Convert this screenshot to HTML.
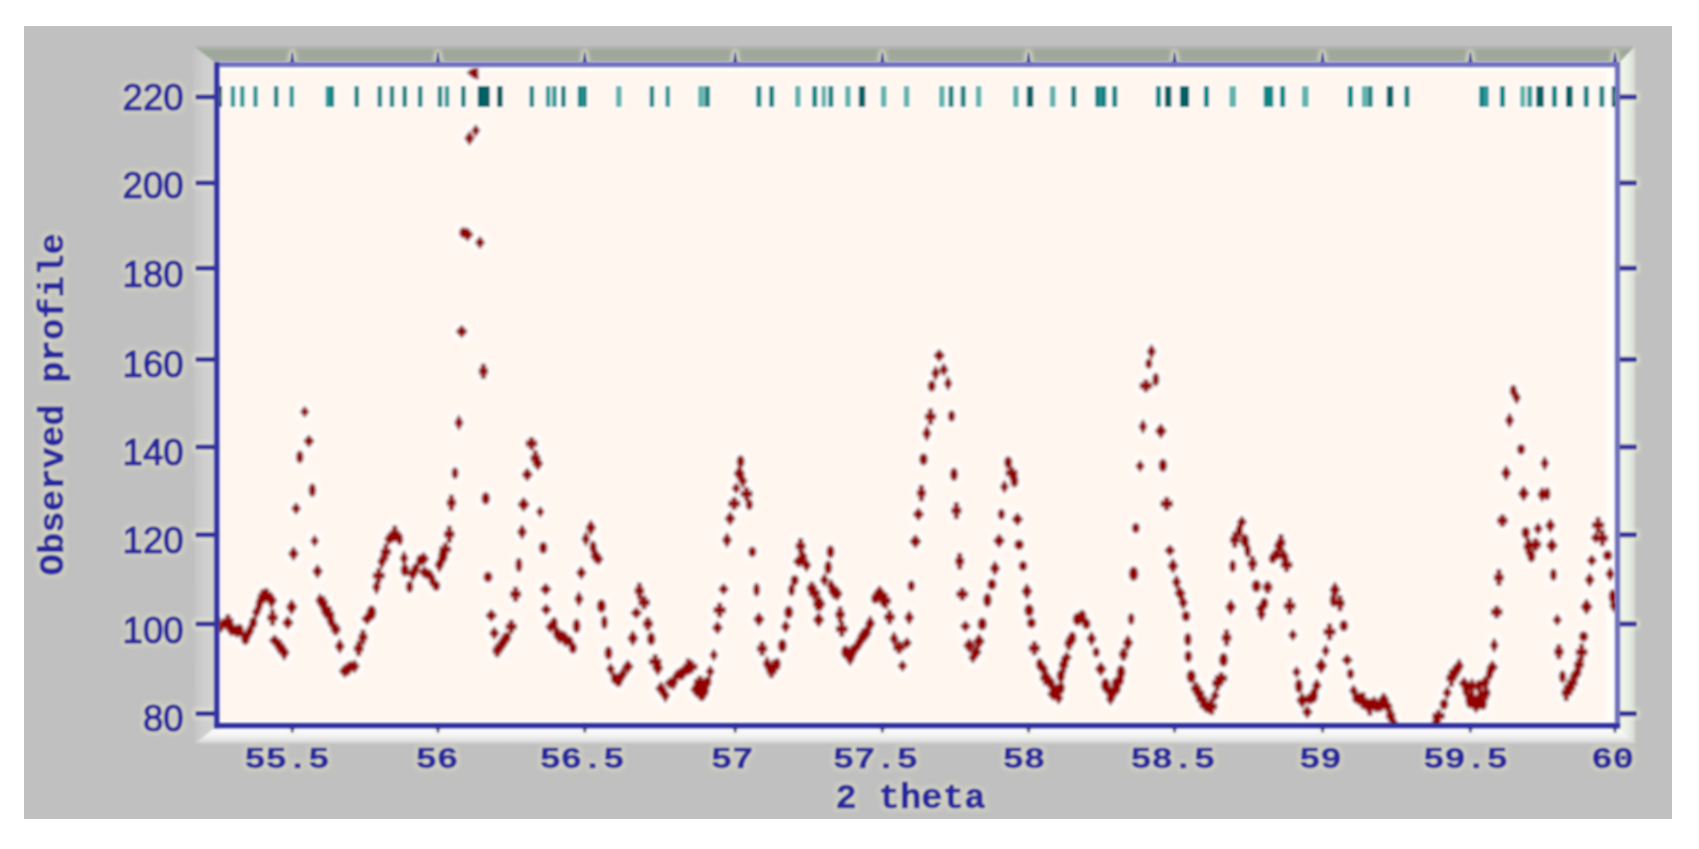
<!DOCTYPE html>
<html lang="en"><head><meta charset="utf-8"><title>Observed profile vs 2 theta</title>
<style>html,body{margin:0;padding:0;background:#fff;}body{width:1699px;height:849px;overflow:hidden;}svg{display:block;}</style>
</head><body>
<svg width="1699" height="849" viewBox="0 0 1699 849">
<defs><filter id="b1" x="-5%" y="-5%" width="110%" height="110%"><feGaussianBlur stdDeviation="1.3"/></filter><filter id="b2" x="-5%" y="-5%" width="110%" height="110%"><feGaussianBlur stdDeviation="1.0"/></filter><filter id="hy" x="-5%" y="-5%" width="110%" height="110%"><feMorphology in="SourceAlpha" operator="dilate" radius="2"/><feGaussianBlur stdDeviation="2.2" result="d"/><feFlood flood-color="#e6e5c4" flood-opacity="0.6"/><feComposite in2="d" operator="in" result="h"/><feGaussianBlur in="SourceGraphic" stdDeviation="1.0" result="s"/><feMerge><feMergeNode in="h"/><feMergeNode in="s"/></feMerge></filter><filter id="hw" x="-5%" y="-5%" width="110%" height="110%"><feMorphology in="SourceAlpha" operator="dilate" radius="3"/><feGaussianBlur stdDeviation="2" result="d"/><feFlood flood-color="#ffffff" flood-opacity="1"/><feComposite in2="d" operator="in" result="h"/><feGaussianBlur in="SourceGraphic" stdDeviation="1.5" result="s"/><feMerge><feMergeNode in="h"/><feMergeNode in="s"/></feMerge></filter><filter id="ht" x="-5%" y="-20%" width="110%" height="140%"><feMorphology in="SourceAlpha" operator="dilate" radius="2"/><feGaussianBlur stdDeviation="1.8" result="d"/><feFlood flood-color="#ffffff" flood-opacity="0.9"/><feComposite in2="d" operator="in" result="h"/><feGaussianBlur in="SourceGraphic" stdDeviation="1.15" result="s"/><feMerge><feMergeNode in="h"/><feMergeNode in="s"/></feMerge></filter><filter id="hy2" x="-5%" y="-5%" width="110%" height="110%"><feMorphology in="SourceAlpha" operator="dilate" radius="1.5"/><feGaussianBlur stdDeviation="2" result="d"/><feFlood flood-color="#f4f4d8" flood-opacity="0.7"/><feComposite in2="d" operator="in" result="h"/><feGaussianBlur in="SourceGraphic" stdDeviation="1.1" result="s"/><feMerge><feMergeNode in="h"/><feMergeNode in="s"/></feMerge></filter><linearGradient id="gb" x1="0" y1="0" x2="0" y2="1"><stop offset="0" stop-color="#ffffff"/><stop offset="0.55" stop-color="#f2f2f2"/><stop offset="1" stop-color="#d4d4d4"/></linearGradient><linearGradient id="gr" x1="0" y1="0" x2="1" y2="0"><stop offset="0" stop-color="#f4fae8"/><stop offset="0.6" stop-color="#e6ece2"/><stop offset="1" stop-color="#d2d6d0"/></linearGradient><linearGradient id="gt" x1="0" y1="0" x2="0" y2="1"><stop offset="0" stop-color="#b4b8b0"/><stop offset="0.35" stop-color="#9ea69a"/><stop offset="1" stop-color="#a2aa9c"/></linearGradient><linearGradient id="gl" x1="0" y1="0" x2="1" y2="0"><stop offset="0" stop-color="#c4c4c4"/><stop offset="0.5" stop-color="#cecece"/><stop offset="1" stop-color="#d2d2cf"/></linearGradient></defs>
<rect width="1699" height="849" fill="#ffffff"/>
<rect x="24" y="26" width="1648" height="793" fill="#c0c0c0"/>
<g filter="url(#b2)">
<polygon points="193.20000000000002,45.9 1635.1,45.9 1620.1,61.9 214.20000000000002,61.9" fill="url(#gt)"/>
<polygon points="193.20000000000002,45.9 214.20000000000002,61.9 214.20000000000002,728.2 195.20000000000002,743.2" fill="url(#gl)"/>
<polygon points="195.20000000000002,743.2 214.20000000000002,728.2 1620.1,728.2 1635.1,743.2" fill="url(#gb)"/>
<polygon points="1635.1,45.9 1635.1,743.2 1620.1,728.2 1620.1,61.9" fill="url(#gr)"/>
<rect x="214.20000000000002" y="61.9" width="1405.8999999999999" height="666.3000000000001" fill="#fffffa"/>
<rect x="221.20000000000002" y="71.4" width="1385.3999999999999" height="648.8000000000001" fill="#fff6ef"/>
</g>
<clipPath id="cp"><rect x="216.8" y="64.5" width="1400.6999999999998" height="661.1"/></clipPath>
<g clip-path="url(#cp)"><g filter="url(#ht)">
<rect x="217.3" y="86" width="4.8" height="21" fill="#005f62"/>
<rect x="230.5" y="86" width="4.8" height="21" fill="#2f9a98"/>
<rect x="239.9" y="86" width="4.8" height="21" fill="#2f9a98"/>
<rect x="253.1" y="86" width="4.8" height="21" fill="#2f9a98"/>
<rect x="273.8" y="86" width="4.8" height="21" fill="#0a8585"/>
<rect x="289.3" y="86" width="4.8" height="21" fill="#2f9a98"/>
<rect x="325.5" y="86" width="4.8" height="21" fill="#2f9a98"/>
<rect x="329.4" y="86" width="4.8" height="21" fill="#0a8585"/>
<rect x="354.3" y="86" width="4.8" height="21" fill="#0a8585"/>
<rect x="377.4" y="86" width="4.8" height="21" fill="#0a8585"/>
<rect x="389.6" y="86" width="4.8" height="21" fill="#0a8585"/>
<rect x="402.3" y="86" width="4.8" height="21" fill="#0a8585"/>
<rect x="417.8" y="86" width="4.8" height="21" fill="#0a8585"/>
<rect x="437.6" y="86" width="4.8" height="21" fill="#0a8585"/>
<rect x="444.6" y="86" width="4.8" height="21" fill="#2f9a98"/>
<rect x="461.0" y="86" width="4.8" height="21" fill="#0a8585"/>
<rect x="477.6" y="86" width="12.3" height="21" fill="#005f62"/>
<rect x="497.0" y="86" width="5.8" height="21" fill="#005f62"/>
<rect x="529.4" y="86" width="4.8" height="21" fill="#0a8585"/>
<rect x="545.8" y="86" width="4.8" height="21" fill="#2f9a98"/>
<rect x="552.0" y="86" width="4.8" height="21" fill="#2f9a98"/>
<rect x="561.0" y="86" width="4.8" height="21" fill="#0a8585"/>
<rect x="577.6" y="86" width="4.8" height="21" fill="#0a8585"/>
<rect x="582.1" y="86" width="4.8" height="21" fill="#0a8585"/>
<rect x="615.9" y="86" width="5.8" height="21" fill="#62b2ac"/>
<rect x="649.5" y="86" width="4.8" height="21" fill="#0a8585"/>
<rect x="665.3" y="86" width="4.8" height="21" fill="#2f9a98"/>
<rect x="698.1" y="86" width="5.8" height="21" fill="#62b2ac"/>
<rect x="704.3" y="86" width="5.8" height="21" fill="#0a8585"/>
<rect x="756.2" y="86" width="5.3" height="21" fill="#0a8585"/>
<rect x="769.0" y="86" width="5.3" height="21" fill="#0a8585"/>
<rect x="795.0" y="86" width="5.8" height="21" fill="#62b2ac"/>
<rect x="812.1" y="86" width="5.3" height="21" fill="#0a8585"/>
<rect x="821.4" y="86" width="4.8" height="21" fill="#62b2ac"/>
<rect x="828.2" y="86" width="5.3" height="21" fill="#0a8585"/>
<rect x="845.0" y="86" width="5.8" height="21" fill="#62b2ac"/>
<rect x="858.6" y="86" width="6.8" height="21" fill="#005f62"/>
<rect x="880.8" y="86" width="5.8" height="21" fill="#62b2ac"/>
<rect x="903.7" y="86" width="5.8" height="21" fill="#62b2ac"/>
<rect x="939.0" y="86" width="5.8" height="21" fill="#62b2ac"/>
<rect x="948.4" y="86" width="5.3" height="21" fill="#0a8585"/>
<rect x="960.5" y="86" width="5.3" height="21" fill="#0a8585"/>
<rect x="975.7" y="86" width="5.8" height="21" fill="#62b2ac"/>
<rect x="1013.0" y="86" width="5.8" height="21" fill="#62b2ac"/>
<rect x="1026.6" y="86" width="6.8" height="21" fill="#005f62"/>
<rect x="1049.8" y="86" width="5.8" height="21" fill="#62b2ac"/>
<rect x="1071.1" y="86" width="5.3" height="21" fill="#0a8585"/>
<rect x="1095.1" y="86" width="5.8" height="21" fill="#0a8585"/>
<rect x="1100.6" y="86" width="5.8" height="21" fill="#0a8585"/>
<rect x="1112.1" y="86" width="5.3" height="21" fill="#0a8585"/>
<rect x="1155.8" y="86" width="5.3" height="21" fill="#0a8585"/>
<rect x="1164.8" y="86" width="6.8" height="21" fill="#005f62"/>
<rect x="1179.9" y="86" width="9.3" height="21" fill="#005f62"/>
<rect x="1203.8" y="86" width="5.3" height="21" fill="#0a8585"/>
<rect x="1229.3" y="86" width="6.8" height="21" fill="#62b2ac"/>
<rect x="1263.6" y="86" width="5.8" height="21" fill="#0a8585"/>
<rect x="1268.6" y="86" width="4.8" height="21" fill="#0a8585"/>
<rect x="1280.0" y="86" width="5.3" height="21" fill="#0a8585"/>
<rect x="1301.9" y="86" width="6.8" height="21" fill="#62b2ac"/>
<rect x="1347.8" y="86" width="5.3" height="21" fill="#0a8585"/>
<rect x="1361.7" y="86" width="5.8" height="21" fill="#62b2ac"/>
<rect x="1367.5" y="86" width="5.3" height="21" fill="#0a8585"/>
<rect x="1386.6" y="86" width="6.8" height="21" fill="#005f62"/>
<rect x="1404.3" y="86" width="5.3" height="21" fill="#0a8585"/>
<rect x="1479.1" y="86" width="5.8" height="21" fill="#0a8585"/>
<rect x="1484.1" y="86" width="4.8" height="21" fill="#2f9a98"/>
<rect x="1499.8" y="86" width="5.3" height="21" fill="#0a8585"/>
<rect x="1520.1" y="86" width="5.3" height="21" fill="#62b2ac"/>
<rect x="1527.1" y="86" width="5.3" height="21" fill="#2f9a98"/>
<rect x="1536.1" y="86" width="7.8" height="21" fill="#005f62"/>
<rect x="1551.8" y="86" width="5.3" height="21" fill="#0a8585"/>
<rect x="1566.0" y="86" width="6.8" height="21" fill="#005f62"/>
<rect x="1583.6" y="86" width="5.3" height="21" fill="#0a8585"/>
<rect x="1599.2" y="86" width="5.3" height="21" fill="#0a8585"/>
<rect x="1611.6" y="86" width="5.8" height="21" fill="#005f62"/>
</g></g>
<g clip-path="url(#cp)"><g filter="url(#hw)" fill="#930000">
<ellipse cx="216.9" cy="622.4" rx="4.1" ry="6.2"/>
<ellipse cx="220.2" cy="627.1" rx="3.7" ry="5.8"/>
<polygon points="222.9,617.8 228.0,624.3 222.9,630.8 217.8,624.3"/>
<path d="M225.3,614.1h5.4v3.9h2.9v6.4h-2.9v3.9h-5.4v-3.9h-2.9v-6.4h2.9z"/>
<polygon points="230.9,619.2 237.2,628.0 230.9,636.9 224.6,628.0"/>
<ellipse cx="233.7" cy="630.3" rx="3.7" ry="5.6"/>
<polygon points="236.9,623.7 242.8,631.2 236.9,638.6 230.9,631.2"/>
<ellipse cx="239.8" cy="630.2" rx="4.2" ry="6.7"/>
<ellipse cx="245.4" cy="638.1" rx="4.7" ry="7.2"/>
<polygon points="249.9,622.3 254.7,630.8 249.9,639.2 245.1,630.8"/>
<ellipse cx="253.3" cy="622.6" rx="4.4" ry="6.2"/>
<polygon points="256.3,605.3 261.3,612.2 256.3,619.2 251.3,612.2"/>
<ellipse cx="259.3" cy="604.4" rx="3.8" ry="7.3"/>
<path d="M260.1,589.2h5.4v4.1h2.5v6.4h-2.5v4.1h-5.4v-4.1h-2.5v-6.4h2.5z"/>
<path d="M263.6,588.0h5.4v3.7h2.9v6.4h-2.9v3.7h-5.4v-3.7h-2.9v-6.4h2.9z"/>
<polygon points="271.5,591.6 277.4,600.5 271.5,609.4 265.7,600.5"/>
<path d="M269.8,609.2h5.4v5.2h2.8v6.4h-2.8v5.2h-5.4v-5.2h-2.8v-6.4h2.8z"/>
<polygon points="274.6,634.1 281.0,640.5 274.6,646.9 268.3,640.5"/>
<path d="M277.0,639.7h5.4v3.6h2.1v6.4h-2.1v3.6h-5.4v-3.6h-2.1v-6.4h2.1z"/>
<polygon points="284.2,643.9 289.9,652.6 284.2,661.4 278.4,652.6"/>
<polygon points="287.8,615.2 294.0,622.7 287.8,630.1 281.5,622.7"/>
<polygon points="291.6,598.2 297.7,606.9 291.6,615.7 285.6,606.9"/>
<polygon points="293.5,545.8 299.2,553.7 293.5,561.6 287.8,553.7"/>
<polygon points="296.1,501.8 301.4,508.5 296.1,515.2 290.8,508.5"/>
<ellipse cx="299.8" cy="456.9" rx="4.0" ry="6.7"/>
<polygon points="304.7,405.5 309.7,411.8 304.7,418.1 299.7,411.8"/>
<polygon points="308.9,434.3 314.8,441.1 308.9,447.9 303.0,441.1"/>
<ellipse cx="312.3" cy="490.2" rx="3.9" ry="7.1"/>
<polygon points="314.6,534.3 319.4,540.9 314.6,547.4 309.9,540.9"/>
<polygon points="317.5,563.4 323.2,571.3 317.5,579.3 311.9,571.3"/>
<polygon points="319.9,592.3 324.8,600.4 319.9,608.5 315.0,600.4"/>
<path d="M320.2,595.8h5.4v3.9h2.4v6.4h-2.4v3.9h-5.4v-3.9h-2.4v-6.4h2.4z"/>
<polygon points="325.5,604.1 330.7,611.8 325.5,619.6 320.3,611.8"/>
<path d="M326.5,606.0h5.4v5.3h2.7v6.4h-2.7v5.3h-5.4v-5.3h-2.7v-6.4h2.7z"/>
<ellipse cx="331.4" cy="622.2" rx="4.1" ry="5.8"/>
<path d="M333.0,623.0h5.4v3.1h2.3v6.4h-2.3v3.1h-5.4v-3.1h-2.3v-6.4h2.3z"/>
<polygon points="339.8,637.8 345.2,646.2 339.8,654.6 334.4,646.2"/>
<polygon points="344.7,663.5 350.9,671.0 344.7,678.5 338.4,671.0"/>
<ellipse cx="347.9" cy="669.3" rx="3.6" ry="6.6"/>
<ellipse cx="350.7" cy="666.4" rx="4.9" ry="5.6"/>
<polygon points="354.7,658.7 360.0,666.3 354.7,673.9 349.4,666.3"/>
<path d="M356.0,640.8h5.4v4.5h2.4v6.4h-2.4v4.5h-5.4v-4.5h-2.4v-6.4h2.4z"/>
<path d="M360.3,629.5h5.4v4.4h2.1v6.4h-2.1v4.4h-5.4v-4.4h-2.1v-6.4h2.1z"/>
<polygon points="367.1,612.0 373.5,618.8 367.1,625.6 360.7,618.8"/>
<ellipse cx="371.5" cy="612.6" rx="5.0" ry="7.5"/>
<polygon points="376.5,578.3 381.2,587.0 376.5,595.7 371.8,587.0"/>
<path d="M376.1,567.7h5.4v4.7h3.6v6.4h-3.6v4.7h-5.4v-4.7h-3.6v-6.4h3.6z"/>
<polygon points="381.9,553.2 386.8,561.6 381.9,569.9 377.0,561.6"/>
<path d="M383.2,543.4h5.4v5.3h2.7v6.4h-2.7v5.3h-5.4v-5.3h-2.7v-6.4h2.7z"/>
<polygon points="388.7,532.0 393.7,538.9 388.7,545.7 383.8,538.9"/>
<polygon points="391.6,529.6 397.2,536.9 391.6,544.2 386.0,536.9"/>
<path d="M392.1,525.3h5.4v5.0h2.4v6.4h-2.4v5.0h-5.4v-5.0h-2.4v-6.4h2.4z"/>
<ellipse cx="399.8" cy="539.0" rx="3.6" ry="6.6"/>
<polygon points="404.1,549.7 408.8,558.2 404.1,566.6 399.4,558.2"/>
<ellipse cx="404.9" cy="570.1" rx="4.5" ry="6.6"/>
<ellipse cx="409.6" cy="586.8" rx="4.0" ry="6.3"/>
<polygon points="412.7,566.0 418.1,574.0 412.7,582.0 407.3,574.0"/>
<ellipse cx="415.8" cy="568.3" rx="4.2" ry="5.4"/>
<ellipse cx="420.2" cy="560.2" rx="4.3" ry="5.9"/>
<polygon points="423.6,551.3 429.7,558.8 423.6,566.3 417.5,558.8"/>
<polygon points="423.9,565.7 429.4,572.2 423.9,578.8 418.4,572.2"/>
<polygon points="426.0,566.4 431.4,572.9 426.0,579.5 420.5,572.9"/>
<ellipse cx="428.9" cy="574.3" rx="4.3" ry="5.4"/>
<ellipse cx="432.2" cy="579.9" rx="3.7" ry="7.0"/>
<ellipse cx="436.2" cy="585.8" rx="4.3" ry="5.5"/>
<polygon points="439.4,556.0 444.7,564.7 439.4,573.5 434.1,564.7"/>
<ellipse cx="443.0" cy="555.8" rx="4.9" ry="7.6"/>
<path d="M442.6,542.6h5.4v3.6h3.4v6.4h-3.4v3.6h-5.4v-3.6h-3.4v-6.4h3.4z"/>
<path d="M446.6,525.4h5.4v5.6h2.8v6.4h-2.8v5.6h-5.4v-5.6h-2.8v-6.4h2.8z"/>
<path d="M448.7,494.5h5.4v5.1h2.2v6.4h-2.2v5.1h-5.4v-5.1h-2.2v-6.4h2.2z"/>
<ellipse cx="455.0" cy="473.1" rx="3.7" ry="6.1"/>
<polygon points="458.9,414.1 463.8,422.7 458.9,431.3 454.0,422.7"/>
<ellipse cx="488.0" cy="577.0" rx="4.8" ry="5.7"/>
<polygon points="491.3,608.5 497.6,615.4 491.3,622.2 484.9,615.4"/>
<polygon points="494.3,626.0 499.9,633.2 494.3,640.3 488.7,633.2"/>
<path d="M494.5,643.8h5.4v3.5h2.2v6.4h-2.2v3.5h-5.4v-3.5h-2.2v-6.4h2.2z"/>
<polygon points="502.6,634.4 508.5,643.0 502.6,651.7 496.7,643.0"/>
<ellipse cx="506.6" cy="637.3" rx="4.8" ry="5.6"/>
<path d="M508.5,619.4h5.4v4.0h3.1v6.4h-3.1v4.0h-5.4v-4.0h-3.1v-6.4h3.1z"/>
<path d="M512.9,586.4h5.4v4.6h3.0v6.4h-3.0v4.6h-5.4v-4.6h-3.0v-6.4h3.0z"/>
<ellipse cx="518.9" cy="564.9" rx="3.7" ry="7.5"/>
<polygon points="522.1,523.5 527.4,531.9 522.1,540.2 516.7,531.9"/>
<polygon points="523.6,496.6 530.1,504.4 523.6,512.2 517.1,504.4"/>
<polygon points="527.2,467.2 533.3,474.6 527.2,482.1 521.2,474.6"/>
<path d="M528.8,437.1h5.4v3.2h3.3v6.4h-3.3v3.2h-5.4v-3.2h-3.3v-6.4h3.3z"/>
<path d="M532.7,450.3h5.4v4.8h2.4v6.4h-2.4v4.8h-5.4v-4.8h-2.4v-6.4h2.4z"/>
<polygon points="537.9,455.5 543.6,463.5 537.9,471.5 532.2,463.5"/>
<polygon points="540.2,505.4 544.8,511.8 540.2,518.2 535.6,511.8"/>
<ellipse cx="543.2" cy="547.7" rx="4.5" ry="6.3"/>
<polygon points="545.7,582.6 552.0,589.2 545.7,595.9 539.4,589.2"/>
<polygon points="546.1,603.3 552.0,609.6 546.1,616.0 540.3,609.6"/>
<polygon points="550.3,620.3 555.6,626.9 550.3,633.5 545.0,626.9"/>
<ellipse cx="554.2" cy="623.3" rx="3.9" ry="6.6"/>
<ellipse cx="556.8" cy="633.2" rx="3.9" ry="6.7"/>
<polygon points="559.1,627.7 564.0,636.4 559.1,645.1 554.3,636.4"/>
<ellipse cx="562.1" cy="635.6" rx="3.8" ry="5.6"/>
<polygon points="565.4,631.1 571.6,639.5 565.4,647.8 559.1,639.5"/>
<ellipse cx="569.7" cy="641.2" rx="4.0" ry="5.4"/>
<ellipse cx="572.9" cy="648.0" rx="4.4" ry="6.1"/>
<ellipse cx="576.6" cy="625.9" rx="4.2" ry="7.4"/>
<polygon points="578.9,590.3 584.0,599.0 578.9,607.6 573.9,599.0"/>
<polygon points="581.3,565.4 586.9,572.8 581.3,580.2 575.7,572.8"/>
<polygon points="585.8,530.6 590.5,538.9 585.8,547.2 581.1,538.9"/>
<polygon points="590.8,518.9 596.5,527.6 590.8,536.4 585.2,527.6"/>
<ellipse cx="593.1" cy="547.3" rx="3.9" ry="6.7"/>
<polygon points="595.7,547.7 601.5,556.2 595.7,564.6 589.9,556.2"/>
<polygon points="598.7,551.9 603.9,559.0 598.7,566.1 593.5,559.0"/>
<ellipse cx="601.4" cy="606.1" rx="4.9" ry="7.1"/>
<ellipse cx="604.4" cy="622.4" rx="3.6" ry="7.2"/>
<ellipse cx="608.5" cy="653.0" rx="4.3" ry="7.0"/>
<polygon points="610.6,662.5 615.6,669.1 610.6,675.7 605.6,669.1"/>
<ellipse cx="614.2" cy="678.2" rx="3.6" ry="6.1"/>
<ellipse cx="618.4" cy="680.2" rx="4.6" ry="7.2"/>
<polygon points="622.6,666.7 627.7,674.5 622.6,682.2 617.5,674.5"/>
<polygon points="627.9,659.0 634.0,666.6 627.9,674.3 621.8,666.6"/>
<polygon points="632.8,629.5 638.7,638.3 632.8,647.1 627.0,638.3"/>
<polygon points="636.3,606.6 642.6,612.9 636.3,619.3 630.0,612.9"/>
<path d="M636.7,582.6h5.4v5.0h2.3v6.4h-2.3v5.0h-5.4v-5.0h-2.3v-6.4h2.3z"/>
<path d="M641.4,595.4h5.4v3.9h3.3v6.4h-3.3v3.9h-5.4v-3.9h-3.3v-6.4h3.3z"/>
<path d="M645.2,616.9h5.4v3.7h2.5v6.4h-2.5v3.7h-5.4v-3.7h-2.5v-6.4h2.5z"/>
<ellipse cx="651.2" cy="638.9" rx="4.5" ry="6.9"/>
<path d="M652.5,654.1h5.4v4.3h3.8v6.4h-3.8v4.3h-5.4v-4.3h-3.8v-6.4h3.8z"/>
<polygon points="657.8,659.4 663.7,667.9 657.8,676.4 651.9,667.9"/>
<polygon points="660.9,680.7 666.8,688.4 660.9,696.2 654.9,688.4"/>
<polygon points="665.4,687.6 670.4,695.6 665.4,703.5 660.4,695.6"/>
<polygon points="670.2,676.4 676.5,683.1 670.2,689.7 663.9,683.1"/>
<polygon points="673.7,673.8 678.5,682.5 673.7,691.2 668.9,682.5"/>
<polygon points="676.9,668.8 681.8,675.2 676.9,681.6 672.1,675.2"/>
<ellipse cx="681.2" cy="674.0" rx="4.6" ry="6.8"/>
<ellipse cx="684.0" cy="671.3" rx="4.7" ry="5.5"/>
<path d="M685.5,658.2h5.4v5.2h2.6v6.4h-2.6v5.2h-5.4v-5.2h-2.6v-6.4h2.6z"/>
<path d="M688.7,660.2h5.4v3.3h3.6v6.4h-3.6v3.3h-5.4v-3.3h-3.6v-6.4h3.6z"/>
<polygon points="696.2,680.6 702.6,689.4 696.2,698.1 689.9,689.4"/>
<polygon points="699.1,685.0 704.1,691.6 699.1,698.2 694.1,691.6"/>
<ellipse cx="701.8" cy="694.5" rx="4.8" ry="7.1"/>
<polygon points="705.4,676.3 711.6,684.3 705.4,692.2 699.2,684.3"/>
<ellipse cx="708.1" cy="681.5" rx="3.7" ry="5.6"/>
<polygon points="710.2,664.4 715.1,671.5 710.2,678.6 705.2,671.5"/>
<polygon points="713.8,648.0 718.4,654.9 713.8,661.9 709.2,654.9"/>
<polygon points="717.5,620.5 723.4,627.7 717.5,635.0 711.5,627.7"/>
<path d="M717.0,602.5h5.4v4.4h3.7v6.4h-3.7v4.4h-5.4v-4.4h-3.7v-6.4h3.7z"/>
<polygon points="723.6,582.8 729.3,589.2 723.6,595.6 717.8,589.2"/>
<polygon points="727.0,531.8 732.4,540.1 727.0,548.4 721.6,540.1"/>
<polygon points="730.1,510.9 736.0,518.6 730.1,526.3 724.2,518.6"/>
<path d="M731.5,497.1h5.4v3.3h3.5v6.4h-3.5v3.3h-5.4v-3.3h-3.5v-6.4h3.5z"/>
<polygon points="736.2,481.9 741.1,488.2 736.2,494.5 731.2,488.2"/>
<polygon points="739.4,464.8 745.4,473.6 739.4,482.4 733.3,473.6"/>
<ellipse cx="740.6" cy="461.5" rx="4.3" ry="6.4"/>
<polygon points="742.9,473.5 747.8,481.1 742.9,488.7 737.9,481.1"/>
<path d="M743.9,486.9h5.4v3.8h3.5v6.4h-3.5v3.8h-5.4v-3.8h-3.5v-6.4h3.5z"/>
<ellipse cx="749.3" cy="504.6" rx="4.0" ry="5.8"/>
<ellipse cx="752.3" cy="551.8" rx="4.3" ry="5.6"/>
<ellipse cx="756.6" cy="589.7" rx="3.7" ry="7.1"/>
<polygon points="758.9,611.4 765.0,619.3 758.9,627.3 752.8,619.3"/>
<path d="M759.4,641.3h5.4v4.1h2.7v6.4h-2.7v4.1h-5.4v-4.1h-2.7v-6.4h2.7z"/>
<polygon points="767.1,655.1 771.8,663.8 767.1,672.4 762.3,663.8"/>
<path d="M768.7,664.3h5.4v3.8h2.3v6.4h-2.3v3.8h-5.4v-3.8h-2.3v-6.4h2.3z"/>
<path d="M771.5,659.5h5.4v4.1h2.9v6.4h-2.9v4.1h-5.4v-4.1h-2.9v-6.4h2.9z"/>
<ellipse cx="777.2" cy="664.0" rx="3.9" ry="6.4"/>
<ellipse cx="782.3" cy="645.8" rx="4.7" ry="7.0"/>
<polygon points="785.6,619.4 790.9,626.5 785.6,633.7 780.4,626.5"/>
<ellipse cx="788.7" cy="612.2" rx="4.8" ry="6.8"/>
<ellipse cx="791.6" cy="590.1" rx="3.8" ry="6.3"/>
<ellipse cx="794.7" cy="580.3" rx="4.4" ry="5.6"/>
<polygon points="798.8,554.4 805.1,561.4 798.8,568.3 792.5,561.4"/>
<path d="M797.9,538.0h5.4v4.9h2.5v6.4h-2.5v4.9h-5.4v-4.9h-2.5v-6.4h2.5z"/>
<polygon points="803.1,549.6 808.0,556.3 803.1,563.0 798.2,556.3"/>
<polygon points="806.5,557.5 811.7,565.2 806.5,572.8 801.3,565.2"/>
<path d="M809.1,581.4h5.4v3.6h2.5v6.4h-2.5v3.6h-5.4v-3.6h-2.5v-6.4h2.5z"/>
<path d="M811.7,586.6h5.4v3.4h3.3v6.4h-3.3v3.4h-5.4v-3.4h-3.3v-6.4h3.3z"/>
<path d="M815.0,596.4h5.4v4.1h2.1v6.4h-2.1v4.1h-5.4v-4.1h-2.1v-6.4h2.1z"/>
<polygon points="818.7,611.6 824.8,619.8 818.7,628.0 812.5,619.8"/>
<polygon points="820.9,596.1 825.9,604.0 820.9,612.0 815.9,604.0"/>
<polygon points="824.4,572.6 829.4,579.9 824.4,587.2 819.4,579.9"/>
<ellipse cx="828.2" cy="567.4" rx="4.2" ry="7.1"/>
<ellipse cx="830.5" cy="551.7" rx="4.3" ry="6.8"/>
<polygon points="831.2,578.1 836.0,586.0 831.2,593.8 826.3,586.0"/>
<polygon points="833.8,582.8 839.8,591.5 833.8,600.2 827.7,591.5"/>
<polygon points="837.3,585.4 843.0,593.7 837.3,601.9 831.6,593.7"/>
<path d="M837.4,606.3h5.4v5.0h2.3v6.4h-2.3v5.0h-5.4v-5.0h-2.3v-6.4h2.3z"/>
<path d="M839.1,620.9h5.4v4.9h3.4v6.4h-3.4v4.9h-5.4v-4.9h-3.4v-6.4h3.4z"/>
<ellipse cx="845.5" cy="651.9" rx="4.6" ry="6.8"/>
<polygon points="850.1,650.9 855.3,658.9 850.1,666.8 844.9,658.9"/>
<ellipse cx="852.9" cy="651.4" rx="4.2" ry="7.1"/>
<polygon points="856.1,640.5 861.9,647.5 856.1,654.4 850.4,647.5"/>
<polygon points="860.2,633.2 865.7,641.1 860.2,649.0 854.8,641.1"/>
<polygon points="863.0,627.0 868.9,635.8 863.0,644.5 857.2,635.8"/>
<polygon points="866.1,625.0 871.9,633.3 866.1,641.6 860.2,633.3"/>
<polygon points="870.2,614.6 875.7,623.4 870.2,632.3 864.7,623.4"/>
<ellipse cx="875.3" cy="598.4" rx="4.4" ry="5.7"/>
<polygon points="879.6,584.7 885.9,592.4 879.6,600.0 873.2,592.4"/>
<ellipse cx="883.4" cy="600.6" rx="4.4" ry="6.6"/>
<path d="M882.9,592.7h5.4v4.8h2.9v6.4h-2.9v4.8h-5.4v-4.8h-2.9v-6.4h2.9z"/>
<path d="M886.9,609.7h5.4v4.2h2.9v6.4h-2.9v4.2h-5.4v-4.2h-2.9v-6.4h2.9z"/>
<polygon points="894.0,630.6 899.0,638.7 894.0,646.8 889.0,638.7"/>
<path d="M896.4,640.9h5.4v3.4h3.3v6.4h-3.3v3.4h-5.4v-3.4h-3.3v-6.4h3.3z"/>
<polygon points="902.5,659.4 907.7,665.8 902.5,672.3 897.2,665.8"/>
<polygon points="907.0,636.6 912.4,642.9 907.0,649.3 901.6,642.9"/>
<polygon points="909.2,609.5 914.6,617.6 909.2,625.7 903.8,617.6"/>
<ellipse cx="911.3" cy="585.8" rx="4.0" ry="5.9"/>
<polygon points="915.4,533.7 921.8,541.4 915.4,549.1 909.0,541.4"/>
<polygon points="918.4,506.9 924.6,514.2 918.4,521.6 912.3,514.2"/>
<path d="M918.7,484.8h5.4v5.1h2.1v6.4h-2.1v5.1h-5.4v-5.1h-2.1v-6.4h2.1z"/>
<ellipse cx="923.5" cy="459.3" rx="4.5" ry="6.4"/>
<polygon points="926.8,424.6 931.8,433.4 926.8,442.2 921.8,433.4"/>
<path d="M927.8,408.2h5.4v5.2h3.1v6.4h-3.1v5.2h-5.4v-5.2h-3.1v-6.4h3.1z"/>
<ellipse cx="931.7" cy="386.1" rx="4.3" ry="6.0"/>
<polygon points="935.6,364.7 940.4,373.2 935.6,381.6 930.7,373.2"/>
<polygon points="939.2,348.5 945.5,355.5 939.2,362.5 933.0,355.5"/>
<polygon points="943.8,362.3 948.9,369.7 943.8,377.1 938.7,369.7"/>
<polygon points="948.1,375.2 952.7,383.4 948.1,391.6 943.5,383.4"/>
<ellipse cx="951.6" cy="416.0" rx="4.0" ry="6.0"/>
<ellipse cx="954.0" cy="474.4" rx="4.2" ry="6.8"/>
<path d="M953.7,501.9h5.4v5.5h2.6v6.4h-2.6v5.5h-5.4v-5.5h-2.6v-6.4h2.6z"/>
<path d="M957.0,552.7h5.4v5.3h2.0v6.4h-2.0v5.3h-5.4v-5.3h-2.0v-6.4h2.0z"/>
<path d="M959.5,587.4h5.4v3.5h3.4v6.4h-3.4v3.5h-5.4v-3.5h-3.4v-6.4h3.4z"/>
<polygon points="965.4,619.9 971.2,626.3 965.4,632.6 959.6,626.3"/>
<polygon points="969.2,637.5 975.6,645.5 969.2,653.5 962.8,645.5"/>
<polygon points="972.9,650.9 977.7,657.6 972.9,664.3 968.1,657.6"/>
<polygon points="976.1,645.0 982.2,652.2 976.1,659.4 970.0,652.2"/>
<polygon points="979.0,632.9 985.3,641.3 979.0,649.7 972.7,641.3"/>
<ellipse cx="982.2" cy="623.9" rx="4.9" ry="6.7"/>
<ellipse cx="987.4" cy="600.1" rx="4.6" ry="7.3"/>
<ellipse cx="991.9" cy="584.4" rx="4.8" ry="5.8"/>
<polygon points="994.9,560.0 1000.5,568.2 994.9,576.5 989.3,568.2"/>
<polygon points="999.1,533.1 1005.4,540.8 999.1,548.5 992.8,540.8"/>
<ellipse cx="1001.4" cy="514.2" rx="3.9" ry="5.7"/>
<polygon points="1004.4,479.2 1009.1,486.7 1004.4,494.3 999.7,486.7"/>
<ellipse cx="1008.2" cy="462.4" rx="4.3" ry="6.5"/>
<path d="M1008.9,466.7h5.4v3.1h3.5v6.4h-3.5v3.1h-5.4v-3.1h-3.5v-6.4h3.5z"/>
<ellipse cx="1014.4" cy="481.1" rx="4.3" ry="6.6"/>
<polygon points="1017.4,511.9 1023.6,519.2 1017.4,526.4 1011.2,519.2"/>
<ellipse cx="1019.1" cy="544.7" rx="5.0" ry="5.5"/>
<ellipse cx="1023.0" cy="565.9" rx="4.5" ry="5.4"/>
<polygon points="1026.9,582.6 1032.8,591.3 1026.9,600.0 1021.0,591.3"/>
<ellipse cx="1029.1" cy="610.3" rx="5.0" ry="6.5"/>
<ellipse cx="1031.4" cy="623.0" rx="4.9" ry="5.4"/>
<path d="M1031.7,641.1h5.4v4.0h3.1v6.4h-3.1v4.0h-5.4v-4.0h-3.1v-6.4h3.1z"/>
<ellipse cx="1039.8" cy="664.3" rx="4.1" ry="6.4"/>
<polygon points="1042.6,661.2 1048.6,668.1 1042.6,674.9 1036.5,668.1"/>
<path d="M1042.8,670.0h5.4v4.5h2.7v6.4h-2.7v4.5h-5.4v-4.5h-2.7v-6.4h2.7z"/>
<polygon points="1048.7,672.3 1053.9,680.7 1048.7,689.2 1043.6,680.7"/>
<ellipse cx="1051.1" cy="683.5" rx="4.3" ry="6.0"/>
<ellipse cx="1054.4" cy="691.3" rx="5.0" ry="6.8"/>
<polygon points="1058.6,690.9 1063.8,698.1 1058.6,705.2 1053.4,698.1"/>
<ellipse cx="1060.8" cy="675.8" rx="4.5" ry="6.8"/>
<path d="M1061.0,656.5h5.4v5.0h2.0v6.4h-2.0v5.0h-5.4v-5.0h-2.0v-6.4h2.0z"/>
<polygon points="1066.7,651.0 1072.3,657.4 1066.7,663.9 1061.1,657.4"/>
<path d="M1066.2,636.6h5.4v3.6h1.9v6.4h-1.9v3.6h-5.4v-3.6h-1.9v-6.4h1.9z"/>
<ellipse cx="1072.2" cy="638.0" rx="4.5" ry="6.8"/>
<ellipse cx="1077.4" cy="619.2" rx="4.9" ry="6.7"/>
<ellipse cx="1082.1" cy="616.4" rx="4.5" ry="6.9"/>
<ellipse cx="1086.3" cy="623.8" rx="4.6" ry="5.8"/>
<polygon points="1091.5,630.4 1097.0,638.7 1091.5,647.0 1086.1,638.7"/>
<ellipse cx="1096.2" cy="652.2" rx="3.9" ry="5.4"/>
<polygon points="1100.8,660.9 1107.1,668.9 1100.8,676.9 1094.5,668.9"/>
<ellipse cx="1105.5" cy="684.9" rx="4.8" ry="7.1"/>
<polygon points="1110.5,692.0 1115.6,699.1 1110.5,706.2 1105.4,699.1"/>
<ellipse cx="1115.4" cy="683.7" rx="4.1" ry="6.3"/>
<ellipse cx="1119.3" cy="680.7" rx="5.0" ry="5.5"/>
<path d="M1120.8,647.8h5.4v3.4h2.0v6.4h-2.0v3.4h-5.4v-3.4h-2.0v-6.4h2.0z"/>
<polygon points="1127.9,634.0 1133.6,642.7 1127.9,651.4 1122.2,642.7"/>
<ellipse cx="1131.2" cy="619.0" rx="3.6" ry="6.2"/>
<ellipse cx="1133.6" cy="573.7" rx="5.0" ry="7.5"/>
<ellipse cx="1135.8" cy="528.0" rx="4.2" ry="5.6"/>
<polygon points="1140.1,459.3 1145.1,466.0 1140.1,472.7 1135.1,466.0"/>
<polygon points="1143.0,418.5 1147.6,426.6 1143.0,434.7 1138.3,426.6"/>
<path d="M1143.2,379.2h5.4v3.3h3.7v6.4h-3.7v3.3h-5.4v-3.3h-3.7v-6.4h3.7z"/>
<ellipse cx="1148.8" cy="363.6" rx="3.8" ry="5.4"/>
<polygon points="1151.5,343.4 1156.5,351.6 1151.5,359.8 1146.4,351.6"/>
<ellipse cx="1155.8" cy="379.5" rx="3.7" ry="7.1"/>
<polygon points="1160.9,422.8 1167.1,431.0 1160.9,439.2 1154.6,431.0"/>
<ellipse cx="1162.9" cy="465.3" rx="4.5" ry="6.9"/>
<path d="M1164.0,496.7h5.4v3.8h3.7v6.4h-3.7v3.8h-5.4v-3.8h-3.7v-6.4h3.7z"/>
<polygon points="1169.9,544.1 1175.9,550.4 1169.9,556.7 1163.9,550.4"/>
<polygon points="1173.0,557.5 1178.8,565.9 1173.0,574.3 1167.1,565.9"/>
<polygon points="1176.5,573.9 1181.7,582.1 1176.5,590.3 1171.4,582.1"/>
<polygon points="1180.0,585.7 1186.3,593.3 1180.0,600.8 1173.8,593.3"/>
<polygon points="1183.2,595.0 1188.5,602.8 1183.2,610.6 1177.9,602.8"/>
<ellipse cx="1186.0" cy="616.1" rx="4.6" ry="5.7"/>
<ellipse cx="1187.9" cy="639.4" rx="4.1" ry="6.8"/>
<ellipse cx="1188.3" cy="656.5" rx="4.2" ry="6.2"/>
<ellipse cx="1191.2" cy="676.5" rx="5.0" ry="7.1"/>
<path d="M1193.3,682.0h5.4v3.3h2.5v6.4h-2.5v3.3h-5.4v-3.3h-2.5v-6.4h2.5z"/>
<polygon points="1198.7,684.9 1204.7,693.4 1198.7,701.8 1192.8,693.4"/>
<path d="M1199.2,690.6h5.4v5.6h3.1v6.4h-3.1v5.6h-5.4v-5.6h-3.1v-6.4h3.1z"/>
<polygon points="1205.8,699.4 1211.5,706.5 1205.8,713.6 1200.0,706.5"/>
<ellipse cx="1208.3" cy="707.2" rx="4.9" ry="6.2"/>
<path d="M1209.0,697.9h5.4v5.4h3.0v6.4h-3.0v5.4h-5.4v-5.4h-3.0v-6.4h3.0z"/>
<polygon points="1215.0,689.0 1220.2,695.4 1215.0,701.7 1209.9,695.4"/>
<path d="M1214.6,675.4h5.4v4.6h2.7v6.4h-2.7v4.6h-5.4v-4.6h-2.7v-6.4h2.7z"/>
<path d="M1218.5,671.9h5.4v3.2h3.6v6.4h-3.6v3.2h-5.4v-3.2h-3.6v-6.4h3.6z"/>
<ellipse cx="1223.5" cy="659.8" rx="4.8" ry="7.3"/>
<path d="M1223.9,629.2h5.4v5.3h2.4v6.4h-2.4v5.3h-5.4v-5.3h-2.4v-6.4h2.4z"/>
<polygon points="1230.7,598.4 1236.6,607.1 1230.7,615.8 1224.8,607.1"/>
<ellipse cx="1232.7" cy="566.2" rx="3.7" ry="6.6"/>
<path d="M1232.1,531.5h5.4v5.1h2.3v6.4h-2.3v5.1h-5.4v-5.1h-2.3v-6.4h2.3z"/>
<ellipse cx="1239.3" cy="530.4" rx="3.9" ry="6.7"/>
<polygon points="1241.8,515.3 1247.3,522.1 1241.8,528.9 1236.4,522.1"/>
<ellipse cx="1244.8" cy="540.7" rx="4.7" ry="7.1"/>
<ellipse cx="1247.7" cy="550.7" rx="3.7" ry="7.1"/>
<path d="M1249.8,555.8h5.4v4.6h2.3v6.4h-2.3v4.6h-5.4v-4.6h-2.3v-6.4h2.3z"/>
<ellipse cx="1256.3" cy="586.1" rx="4.9" ry="6.5"/>
<polygon points="1260.8,601.7 1266.5,608.5 1260.8,615.3 1255.1,608.5"/>
<polygon points="1261.5,606.1 1266.4,614.2 1261.5,622.3 1256.5,614.2"/>
<ellipse cx="1264.3" cy="603.4" rx="4.4" ry="6.2"/>
<path d="M1265.0,580.9h5.4v3.2h2.2v6.4h-2.2v3.2h-5.4v-3.2h-2.2v-6.4h2.2z"/>
<ellipse cx="1272.6" cy="558.4" rx="4.1" ry="5.6"/>
<ellipse cx="1276.2" cy="554.6" rx="4.8" ry="5.7"/>
<polygon points="1278.7,538.0 1283.9,545.6 1278.7,553.3 1273.4,545.6"/>
<path d="M1278.3,533.9h5.4v5.7h2.0v6.4h-2.0v5.7h-5.4v-5.7h-2.0v-6.4h2.0z"/>
<polygon points="1283.7,547.9 1289.3,555.7 1283.7,563.4 1278.2,555.7"/>
<path d="M1283.9,557.5h5.4v4.2h3.4v6.4h-3.4v4.2h-5.4v-4.2h-3.4v-6.4h3.4z"/>
<path d="M1287.0,597.6h5.4v5.2h3.4v6.4h-3.4v5.2h-5.4v-5.2h-3.4v-6.4h3.4z"/>
<polygon points="1292.8,628.6 1297.9,635.0 1292.8,641.4 1287.7,635.0"/>
<polygon points="1296.6,665.5 1301.5,672.0 1296.6,678.6 1291.6,672.0"/>
<ellipse cx="1298.9" cy="686.1" rx="4.4" ry="7.3"/>
<polygon points="1302.2,691.7 1308.6,700.3 1302.2,709.0 1295.8,700.3"/>
<polygon points="1307.3,704.7 1313.0,712.0 1307.3,719.3 1301.5,712.0"/>
<ellipse cx="1310.1" cy="698.9" rx="5.0" ry="5.9"/>
<ellipse cx="1313.8" cy="695.4" rx="4.5" ry="7.5"/>
<polygon points="1316.7,678.0 1322.1,685.5 1316.7,692.9 1311.4,685.5"/>
<polygon points="1321.2,656.9 1327.6,665.8 1321.2,674.7 1314.7,665.8"/>
<polygon points="1325.7,643.8 1330.4,650.8 1325.7,657.7 1321.0,650.8"/>
<path d="M1326.9,623.2h5.4v5.5h3.6v6.4h-3.6v5.5h-5.4v-5.5h-3.6v-6.4h3.6z"/>
<ellipse cx="1333.2" cy="600.3" rx="3.7" ry="7.1"/>
<polygon points="1334.9,581.0 1340.7,589.8 1334.9,598.7 1329.1,589.8"/>
<path d="M1337.3,595.0h5.4v5.1h2.2v6.4h-2.2v5.1h-5.4v-5.1h-2.2v-6.4h2.2z"/>
<ellipse cx="1343.8" cy="625.8" rx="4.6" ry="6.0"/>
<polygon points="1347.1,653.4 1353.2,660.0 1347.1,666.6 1341.1,660.0"/>
<ellipse cx="1350.5" cy="673.8" rx="4.0" ry="5.6"/>
<polygon points="1353.6,683.7 1358.6,690.7 1353.6,697.6 1348.7,690.7"/>
<ellipse cx="1356.6" cy="698.4" rx="4.6" ry="5.4"/>
<path d="M1357.1,692.6h5.4v3.2h2.3v6.4h-2.3v3.2h-5.4v-3.2h-2.3v-6.4h2.3z"/>
<path d="M1360.4,691.9h5.4v5.5h2.3v6.4h-2.3v5.5h-5.4v-5.5h-2.3v-6.4h2.3z"/>
<polygon points="1367.1,699.2 1373.4,705.8 1367.1,712.5 1360.8,705.8"/>
<path d="M1367.2,698.6h5.4v5.5h2.1v6.4h-2.1v5.5h-5.4v-5.5h-2.1v-6.4h2.1z"/>
<polygon points="1374.1,695.3 1379.9,702.8 1374.1,710.3 1368.3,702.8"/>
<ellipse cx="1377.1" cy="706.3" rx="4.8" ry="6.4"/>
<polygon points="1381.1,699.0 1386.0,705.9 1381.1,712.8 1376.2,705.9"/>
<polygon points="1383.7,691.5 1389.6,699.2 1383.7,707.0 1377.7,699.2"/>
<polygon points="1387.1,699.1 1393.4,706.1 1387.1,713.1 1380.9,706.1"/>
<path d="M1387.9,708.7h5.4v3.8h2.2v6.4h-2.2v3.8h-5.4v-3.8h-2.2v-6.4h2.2z"/>
<ellipse cx="1393.8" cy="723.7" rx="4.1" ry="5.7"/>
<polygon points="1436.2,714.0 1441.4,722.7 1436.2,731.3 1431.0,722.7"/>
<path d="M1435.9,709.5h5.4v3.2h3.8v6.4h-3.8v3.2h-5.4v-3.2h-3.8v-6.4h3.8z"/>
<ellipse cx="1444.0" cy="704.2" rx="4.6" ry="5.8"/>
<polygon points="1447.2,685.8 1452.3,692.8 1447.2,699.7 1442.1,692.8"/>
<path d="M1448.6,669.1h5.4v5.7h2.6v6.4h-2.6v5.7h-5.4v-5.7h-2.6v-6.4h2.6z"/>
<polygon points="1453.2,668.9 1459.5,675.4 1453.2,682.0 1446.8,675.4"/>
<ellipse cx="1456.7" cy="668.9" rx="4.9" ry="5.5"/>
<polygon points="1459.1,657.3 1464.3,666.1 1459.1,675.0 1454.0,666.1"/>
<polygon points="1464.1,676.2 1470.3,683.4 1464.1,690.6 1458.0,683.4"/>
<ellipse cx="1468.6" cy="699.1" rx="3.6" ry="7.2"/>
<path d="M1469.6,691.4h5.4v4.2h2.3v6.4h-2.3v4.2h-5.4v-4.2h-2.3v-6.4h2.3z"/>
<polygon points="1474.3,693.8 1479.3,701.6 1474.3,709.3 1469.3,701.6"/>
<ellipse cx="1477.9" cy="703.3" rx="3.9" ry="7.1"/>
<polygon points="1480.2,689.2 1485.2,695.7 1480.2,702.2 1475.3,695.7"/>
<polygon points="1485.0,674.9 1490.8,682.5 1485.0,690.1 1479.2,682.5"/>
<ellipse cx="1489.6" cy="673.6" rx="3.9" ry="6.7"/>
<polygon points="1492.3,659.5 1498.5,667.3 1492.3,675.1 1486.2,667.3"/>
<polygon points="1494.2,637.0 1498.9,645.2 1494.2,653.4 1489.5,645.2"/>
<path d="M1494.0,605.6h5.4v3.2h3.3v6.4h-3.3v3.2h-5.4v-3.2h-3.3v-6.4h3.3z"/>
<path d="M1496.2,569.1h5.4v5.3h2.5v6.4h-2.5v5.3h-5.4v-5.3h-2.5v-6.4h2.5z"/>
<path d="M1499.7,514.3h5.4v3.1h2.8v6.4h-2.8v3.1h-5.4v-3.1h-2.8v-6.4h2.8z"/>
<polygon points="1506.1,464.5 1511.6,473.1 1506.1,481.7 1500.6,473.1"/>
<polygon points="1509.6,411.8 1514.5,420.3 1509.6,428.8 1504.6,420.3"/>
<ellipse cx="1513.3" cy="390.7" rx="3.8" ry="6.2"/>
<polygon points="1516.6,390.0 1521.3,397.7 1516.6,405.3 1512.0,397.7"/>
<ellipse cx="1521.1" cy="449.3" rx="4.4" ry="5.6"/>
<polygon points="1523.6,485.0 1529.8,493.5 1523.6,502.1 1517.5,493.5"/>
<ellipse cx="1525.7" cy="532.7" rx="4.6" ry="6.2"/>
<path d="M1525.4,537.9h5.4v5.4h2.0v6.4h-2.0v5.4h-5.4v-5.4h-2.0v-6.4h2.0z"/>
<ellipse cx="1531.4" cy="556.2" rx="4.3" ry="6.5"/>
<path d="M1533.0,538.1h5.4v3.2h2.9v6.4h-2.9v3.2h-5.4v-3.2h-2.9v-6.4h2.9z"/>
<polygon points="1538.1,522.0 1543.1,528.8 1538.1,535.5 1533.0,528.8"/>
<polygon points="1542.1,486.1 1547.1,494.5 1542.1,502.9 1537.0,494.5"/>
<polygon points="1544.7,455.2 1549.5,463.3 1544.7,471.4 1540.0,463.3"/>
<ellipse cx="1547.2" cy="493.8" rx="3.6" ry="6.7"/>
<polygon points="1550.3,517.4 1555.9,525.5 1550.3,533.6 1544.7,525.5"/>
<polygon points="1551.9,537.5 1558.1,545.6 1551.9,553.8 1545.6,545.6"/>
<ellipse cx="1553.4" cy="574.7" rx="3.8" ry="6.4"/>
<polygon points="1557.2,613.3 1562.4,619.9 1557.2,626.5 1552.1,619.9"/>
<path d="M1556.2,643.9h5.4v4.6h2.2v6.4h-2.2v4.6h-5.4v-4.6h-2.2v-6.4h2.2z"/>
<ellipse cx="1562.5" cy="676.7" rx="3.8" ry="6.6"/>
<path d="M1563.5,684.4h5.4v5.2h2.2v6.4h-2.2v5.2h-5.4v-5.2h-2.2v-6.4h2.2z"/>
<path d="M1567.3,680.4h5.4v4.2h2.6v6.4h-2.6v4.2h-5.4v-4.2h-2.6v-6.4h2.6z"/>
<path d="M1569.5,675.3h5.4v4.1h2.9v6.4h-2.9v4.1h-5.4v-4.1h-2.9v-6.4h2.9z"/>
<polygon points="1576.2,666.7 1582.2,673.9 1576.2,681.1 1570.1,673.9"/>
<path d="M1576.4,657.2h5.4v4.2h2.5v6.4h-2.5v4.2h-5.4v-4.2h-2.5v-6.4h2.5z"/>
<path d="M1578.9,643.5h5.4v5.5h3.4v6.4h-3.4v5.5h-5.4v-5.5h-3.4v-6.4h3.4z"/>
<ellipse cx="1583.6" cy="636.4" rx="4.8" ry="5.5"/>
<polygon points="1586.5,598.1 1593.0,606.8 1586.5,615.5 1580.1,606.8"/>
<polygon points="1589.7,571.9 1595.1,579.8 1589.7,587.8 1584.3,579.8"/>
<polygon points="1591.8,554.1 1597.4,560.6 1591.8,567.0 1586.2,560.6"/>
<polygon points="1595.8,531.4 1601.3,537.7 1595.8,544.1 1590.2,537.7"/>
<path d="M1595.4,516.8h5.4v5.1h3.7v6.4h-3.7v5.1h-5.4v-5.1h-3.7v-6.4h3.7z"/>
<path d="M1599.7,529.8h5.4v5.2h3.1v6.4h-3.1v5.2h-5.4v-5.2h-3.1v-6.4h3.1z"/>
<ellipse cx="1607.6" cy="555.4" rx="4.9" ry="5.4"/>
<polygon points="1610.2,565.9 1615.3,574.0 1610.2,582.0 1605.1,574.0"/>
<ellipse cx="1612.8" cy="596.4" rx="4.4" ry="7.4"/>
<polygon points="1614.1,598.1 1619.2,605.7 1614.1,613.4 1609.0,605.7"/>
<polygon points="461.7,324.6 468.1,331.6 461.7,338.6 455.3,331.6"/>
<ellipse cx="463.5" cy="232.7" rx="4.5" ry="5.6"/>
<polygon points="467.5,226.9 473.9,234.5 467.5,242.1 461.1,234.5"/>
<polygon points="469.5,130.6 475.0,138.3 469.5,146.0 464.0,138.3"/>
<polygon points="475.8,124.0 480.6,130.6 475.8,137.2 471.0,130.6"/>
<polygon points="480.0,235.6 485.4,242.6 480.0,249.6 474.6,242.6"/>
<path d="M480.7,363.5h5.4v4.5h2.1v6.4h-2.1v4.5h-5.4v-4.5h-2.1v-6.4h2.1z"/>
<ellipse cx="485.7" cy="498.4" rx="4.5" ry="6.6"/>
<ellipse cx="1466.0" cy="690.0" rx="3.9" ry="6.9"/>
<ellipse cx="1470.0" cy="702.0" rx="4.4" ry="6.7"/>
<polygon points="1476.0,700.1 1481.2,707.0 1476.0,713.9 1470.8,707.0"/>
<ellipse cx="1483.0" cy="704.0" rx="4.3" ry="6.2"/>
<path d="M1483.3,685.8h5.4v4.0h1.9v6.4h-1.9v4.0h-5.4v-4.0h-1.9v-6.4h1.9z"/>
<ellipse cx="1479.0" cy="686.0" rx="3.9" ry="6.6"/>
<polygon points="1472.0,677.1 1477.1,686.0 1472.0,694.9 1466.9,686.0"/>
<polygon points="1057.0,683.3 1063.1,690.0 1057.0,696.7 1050.9,690.0"/>
<polygon points="1053.0,686.6 1059.3,694.0 1053.0,701.4 1046.7,694.0"/>
<ellipse cx="1061.0" cy="688.0" rx="4.2" ry="6.3"/>
<path d="M1109.3,687.1h5.4v3.7h2.1v6.4h-2.1v3.7h-5.4v-3.7h-2.1v-6.4h2.1z"/>
<polygon points="1108.0,683.3 1114.0,690.0 1108.0,696.7 1102.0,690.0"/>
<ellipse cx="1117.0" cy="688.0" rx="4.1" ry="6.8"/>
<ellipse cx="1121.0" cy="672.0" rx="4.8" ry="7.2"/>
<ellipse cx="698.0" cy="688.0" rx="4.7" ry="7.0"/>
<ellipse cx="705.0" cy="690.0" rx="4.3" ry="7.1"/>
<path d="M697.3,675.4h5.4v3.4h3.6v6.4h-3.6v3.4h-5.4v-3.4h-3.6v-6.4h3.6z"/>
<polygon points="478.5,67 479,80 473,78.5 466,72.5 472,68"/>
</g></g>
<g filter="url(#hy2)">
<polygon points="289.7,64.5 294.90000000000003,64.5 293.1,52.0 291.5,52.0" fill="#2e2e9e"/>
<polygon points="289.7,725.6 294.90000000000003,725.6 293.1,733.1 291.5,733.1" fill="#2e2e9e"/>
<polygon points="435.4,64.5 440.6,64.5 438.8,52.0 437.2,52.0" fill="#2e2e9e"/>
<polygon points="435.4,725.6 440.6,725.6 438.8,733.1 437.2,733.1" fill="#2e2e9e"/>
<polygon points="582.1999999999999,64.5 587.4,64.5 585.5999999999999,52.0 584.0,52.0" fill="#2e2e9e"/>
<polygon points="582.1999999999999,725.6 587.4,725.6 585.5999999999999,733.1 584.0,733.1" fill="#2e2e9e"/>
<polygon points="732.6,64.5 737.8000000000001,64.5 736.0,52.0 734.4000000000001,52.0" fill="#2e2e9e"/>
<polygon points="732.6,725.6 737.8000000000001,725.6 736.0,733.1 734.4000000000001,733.1" fill="#2e2e9e"/>
<polygon points="879.8,64.5 885.0,64.5 883.1999999999999,52.0 881.6,52.0" fill="#2e2e9e"/>
<polygon points="879.8,725.6 885.0,725.6 883.1999999999999,733.1 881.6,733.1" fill="#2e2e9e"/>
<polygon points="1026.0,64.5 1031.1999999999998,64.5 1029.3999999999999,52.0 1027.8,52.0" fill="#2e2e9e"/>
<polygon points="1026.0,725.6 1031.1999999999998,725.6 1029.3999999999999,733.1 1027.8,733.1" fill="#2e2e9e"/>
<polygon points="1172.0,64.5 1177.1999999999998,64.5 1175.3999999999999,52.0 1173.8,52.0" fill="#2e2e9e"/>
<polygon points="1172.0,725.6 1177.1999999999998,725.6 1175.3999999999999,733.1 1173.8,733.1" fill="#2e2e9e"/>
<polygon points="1320.0,64.5 1325.1999999999998,64.5 1323.3999999999999,52.0 1321.8,52.0" fill="#2e2e9e"/>
<polygon points="1320.0,725.6 1325.1999999999998,725.6 1323.3999999999999,733.1 1321.8,733.1" fill="#2e2e9e"/>
<polygon points="1467.8000000000002,64.5 1473.0,64.5 1471.2,52.0 1469.6000000000001,52.0" fill="#2e2e9e"/>
<polygon points="1467.8000000000002,725.6 1473.0,725.6 1471.2,733.1 1469.6000000000001,733.1" fill="#2e2e9e"/>
<polygon points="1612.4,64.5 1617.6,64.5 1615.8,52.0 1614.2,52.0" fill="#2e2e9e"/>
<polygon points="1612.4,725.6 1617.6,725.6 1615.8,733.1 1614.2,733.1" fill="#2e2e9e"/>
<rect x="195.3" y="94.3" width="21.5" height="5.4" fill="#2e2e9e"/>
<rect x="1617.5" y="94.3" width="19.5" height="5.4" fill="#2e2e9e"/>
<rect x="195.3" y="180.3" width="21.5" height="5.4" fill="#2e2e9e"/>
<rect x="1617.5" y="180.3" width="19.5" height="5.4" fill="#2e2e9e"/>
<rect x="195.3" y="265.5" width="21.5" height="5.4" fill="#2e2e9e"/>
<rect x="1617.5" y="265.5" width="19.5" height="5.4" fill="#2e2e9e"/>
<rect x="195.3" y="356.8" width="21.5" height="5.4" fill="#2e2e9e"/>
<rect x="1617.5" y="356.8" width="19.5" height="5.4" fill="#2e2e9e"/>
<rect x="195.3" y="444.3" width="21.5" height="5.4" fill="#2e2e9e"/>
<rect x="1617.5" y="444.3" width="19.5" height="5.4" fill="#2e2e9e"/>
<rect x="195.3" y="532.0999999999999" width="21.5" height="5.4" fill="#2e2e9e"/>
<rect x="1617.5" y="532.0999999999999" width="19.5" height="5.4" fill="#2e2e9e"/>
<rect x="195.3" y="621.3" width="21.5" height="5.4" fill="#2e2e9e"/>
<rect x="1617.5" y="621.3" width="19.5" height="5.4" fill="#2e2e9e"/>
<rect x="195.3" y="711.0" width="21.5" height="5.4" fill="#2e2e9e"/>
<rect x="1617.5" y="711.0" width="19.5" height="5.4" fill="#2e2e9e"/>
</g><g filter="url(#b2)">
<rect x="216.8" y="61.9" width="1400.7" height="5.2" fill="#7070bc"/>
<rect x="1614.9" y="61.9" width="5.2" height="666.3000000000001" fill="#7070bc"/>
<rect x="214.20000000000002" y="61.9" width="5.2" height="666.3000000000001" fill="#2e2e9e"/>
<rect x="214.20000000000002" y="723.0" width="1405.9" height="5.2" fill="#2e2e9e"/>
</g>
<g filter="url(#hy)" fill="#2626a0" stroke="#2626a0" stroke-width="1.1">
<text stroke-width="1.7" x="183.5" y="110.4" text-anchor="end" font-family="'Liberation Sans', sans-serif" font-size="36.5">220</text>
<text stroke-width="1.7" x="183.5" y="198.3" text-anchor="end" font-family="'Liberation Sans', sans-serif" font-size="36.5">200</text>
<text stroke-width="1.7" x="183.5" y="287.4" text-anchor="end" font-family="'Liberation Sans', sans-serif" font-size="36.5">180</text>
<text stroke-width="1.7" x="183.5" y="376.5" text-anchor="end" font-family="'Liberation Sans', sans-serif" font-size="36.5">160</text>
<text stroke-width="1.7" x="183.5" y="465.4" text-anchor="end" font-family="'Liberation Sans', sans-serif" font-size="36.5">140</text>
<text stroke-width="1.7" x="183.5" y="552.6" text-anchor="end" font-family="'Liberation Sans', sans-serif" font-size="36.5">120</text>
<text stroke-width="1.7" x="183.5" y="642.5" text-anchor="end" font-family="'Liberation Sans', sans-serif" font-size="36.5">100</text>
<text stroke-width="1.7" x="183.5" y="730.8" text-anchor="end" font-family="'Liberation Sans', sans-serif" font-size="36.5">80</text>
<text transform="translate(0,768.4) scale(1,0.82)" x="255.1 276.3 297.5 318.7" y="0" text-anchor="middle" font-family="'Liberation Mono', monospace" font-weight="bold" font-size="36">55.5</text>
<text transform="translate(0,768.4) scale(1,0.82)" x="426.4 447.6" y="0" text-anchor="middle" font-family="'Liberation Mono', monospace" font-weight="bold" font-size="36">56</text>
<text transform="translate(0,768.4) scale(1,0.82)" x="550.2 571.4 592.6 613.8" y="0" text-anchor="middle" font-family="'Liberation Mono', monospace" font-weight="bold" font-size="36">56.5</text>
<text transform="translate(0,768.4) scale(1,0.82)" x="721.5 742.7" y="0" text-anchor="middle" font-family="'Liberation Mono', monospace" font-weight="bold" font-size="36">57</text>
<text transform="translate(0,768.4) scale(1,0.82)" x="843.6 864.8 886.0 907.2" y="0" text-anchor="middle" font-family="'Liberation Mono', monospace" font-weight="bold" font-size="36">57.5</text>
<text transform="translate(0,768.4) scale(1,0.82)" x="1013.4 1034.6" y="0" text-anchor="middle" font-family="'Liberation Mono', monospace" font-weight="bold" font-size="36">58</text>
<text transform="translate(0,768.4) scale(1,0.82)" x="1141.0 1162.2 1183.4 1204.6" y="0" text-anchor="middle" font-family="'Liberation Mono', monospace" font-weight="bold" font-size="36">58.5</text>
<text transform="translate(0,768.4) scale(1,0.82)" x="1309.9 1331.1" y="0" text-anchor="middle" font-family="'Liberation Mono', monospace" font-weight="bold" font-size="36">59</text>
<text transform="translate(0,768.4) scale(1,0.82)" x="1433.8 1455.0 1476.2 1497.4" y="0" text-anchor="middle" font-family="'Liberation Mono', monospace" font-weight="bold" font-size="36">59.5</text>
<text transform="translate(0,768.4) scale(1,0.82)" x="1602.0 1623.2" y="0" text-anchor="middle" font-family="'Liberation Mono', monospace" font-weight="bold" font-size="36">60</text>
<text x="846.2 867.7 889.1 910.6 932.0 953.5 974.9" y="807.5" text-anchor="middle" font-family="'Liberation Mono', monospace" font-weight="bold" font-size="35.5">2 theta</text>
<text transform="rotate(-90)" x="-564.8 -543.4 -522.0 -500.6 -479.2 -457.8 -436.4 -415.0 -393.6 -372.2 -350.8 -329.4 -308.0 -286.6 -265.2 -243.8" y="62.5" text-anchor="middle" font-family="'Liberation Mono', monospace" font-weight="bold" font-size="35.5">Observed profile</text>
</g>
</svg>
</body></html>
